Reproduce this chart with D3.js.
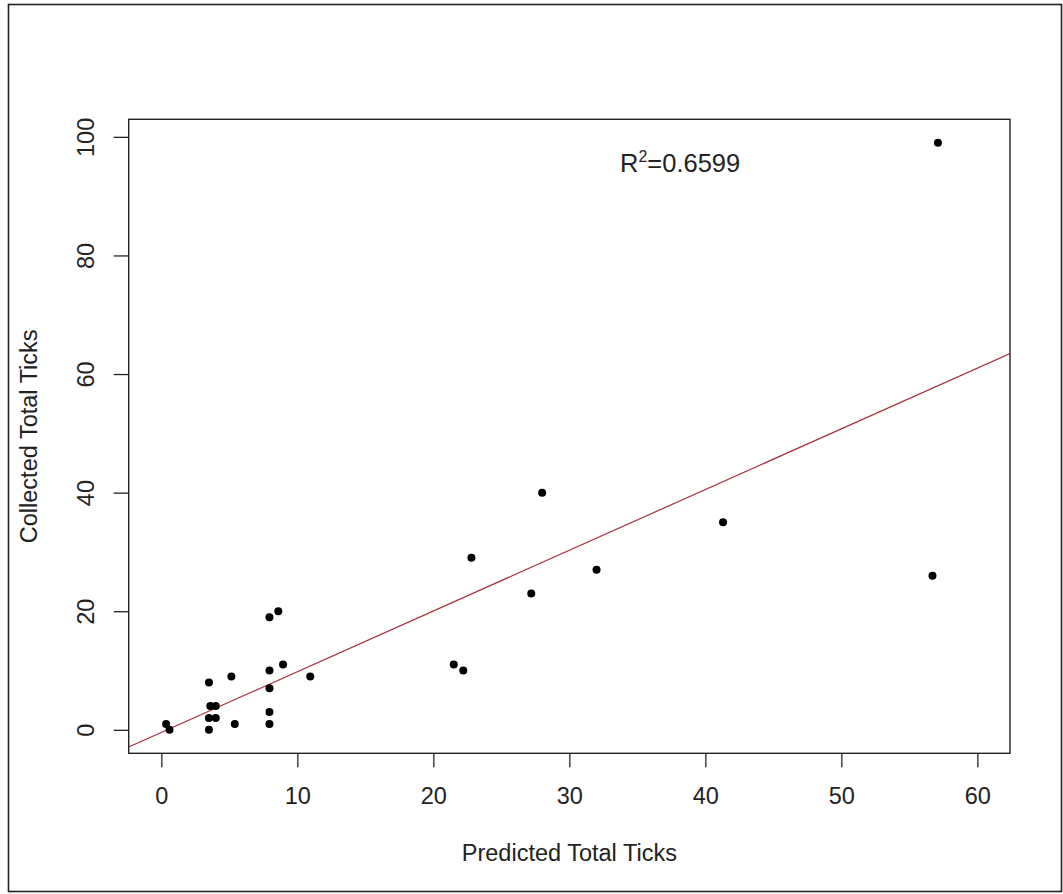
<!DOCTYPE html>
<html>
<head>
<meta charset="utf-8">
<script src="https://cdn.jsdelivr.net/npm/d3@7"></script>
<style>
    body { margin: 0; background: #fff; }
    #chart { width: 1063px; height: 894px; }
    text { font-family: "Liberation Sans", Arial, sans-serif; fill: #222; }
</style>
</head>
<body>
<div id="chart"></div>
<script>

// predicted vs collected tick counts
const predicted = [0.35, 0.6, 3.5, 3.6, 4.0, 3.5, 4.0, 3.5, 5.15, 5.4,
    7.95, 8.6, 7.95, 8.95, 10.95, 7.95, 7.95, 7.95,
    21.5, 22.2, 22.8, 27.2, 28.0, 32.0, 41.3, 56.7, 57.1];
const collected = [1, 0, 8, 4, 4, 2, 2, 0, 9, 1,
    19, 20, 10, 11, 9, 7, 3, 1,
    11, 10, 29, 23, 40, 27, 35, 26, 99];

const xTicks = [0, 10, 20, 30, 40, 50, 60];
const yTicks = [0, 20, 40, 60, 80, 100];

// fitted line (abline) and the r squared label
const fitIntercept = -0.44;
const fitSlope = 1.024;
const rSquared = "0.6599";

const width = 1063;
const height = 894;
const margin = {top: 119.3, left: 128.7, right: 53, bottom: 140.7};

const svg = d3.select("#chart")
    .append("svg")
    .attr("width", width)
    .attr("height", height);

// outer frame round the whole figure
svg.append("rect")
    .attr("x", 8.5)
    .attr("y", 4.5)
    .attr("width", width - 10)
    .attr("height", height - 7)
    .attr("fill", "none")
    .attr("stroke", "#222")
    .attr("stroke-width", 1.6);

const xScale = d3.scaleLinear()
    .domain([-2.4, 62.4])
    .range([margin.left, width - margin.right]);

const yScale = d3.scaleLinear()
    .domain([-3.96, 102.96])
    .range([height - margin.bottom, margin.top]);

/* AXES */

const xAxis = svg.append("g")
    .attr("transform", `translate(0,${height - margin.bottom})`)
    .call(d3.axisBottom(xScale).tickValues(xTicks).tickSize(14).tickFormat(d3.format("d")));

xAxis.select(".domain").remove();
xAxis.selectAll("line").attr("stroke", "#222").attr("stroke-width", 1.3);
xAxis.selectAll("text")
    .attr("y", 50.7)
    .attr("dy", null)
    .attr("font-size", 23.5)
    .style("font-family", "Liberation Sans, Arial, sans-serif")
    .attr("fill", "#222");

const yAxis = svg.append("g")
    .attr("transform", `translate(${margin.left},0)`)
    .call(d3.axisLeft(yScale).tickValues(yTicks).tickSize(15).tickFormat(d3.format("d")));

yAxis.select(".domain").remove();
yAxis.selectAll("line").attr("stroke", "#222").attr("stroke-width", 1.3);
yAxis.selectAll("text")
    .attr("x", null)
    .attr("dy", null)
    .attr("text-anchor", "middle")
    .attr("transform", "translate(-34.7,0) rotate(-90)")
    .attr("font-size", 23.5)
    .style("font-family", "Liberation Sans, Arial, sans-serif")
    .attr("fill", "#222");

/* REGRESSION LINE - clipped to the plot box */

svg.append("clipPath")
    .attr("id", "plotClip")
    .append("rect")
    .attr("x", margin.left)
    .attr("y", margin.top)
    .attr("width", width - margin.left - margin.right)
    .attr("height", height - margin.top - margin.bottom);

const xEnds = xScale.domain();
svg.append("line")
    .attr("clip-path", "url(#plotClip)")
    .attr("x1", xScale(xEnds[0]))
    .attr("y1", yScale(fitIntercept + fitSlope * xEnds[0]))
    .attr("x2", xScale(xEnds[1]))
    .attr("y2", yScale(fitIntercept + fitSlope * xEnds[1]))
    .attr("stroke", "#a3303a")
    .attr("stroke-width", 1.2);

/* POINTS */

const points = svg.selectAll("circle")
    .data(predicted)
    .enter()
    .append("circle")
        .attr("cx", function(d) { return xScale(d); })
        .attr("cy", function(d, i) { return yScale(collected[i]); })
        .attr("r", 4)
        .attr("fill", "#000");

/* PLOT BOX */

svg.append("rect")
    .attr("x", margin.left)
    .attr("y", margin.top)
    .attr("width", width - margin.left - margin.right)
    .attr("height", height - margin.top - margin.bottom)
    .attr("fill", "none")
    .attr("stroke", "#222")
    .attr("stroke-width", 1.4);

/* LABELS */

svg.append("text")
    .attr("x", (margin.left + width - margin.right) / 2)
    .attr("y", 861)
    .attr("text-anchor", "middle")
    .attr("font-size", 23.5)
    .text("Predicted Total Ticks");

svg.append("text")
    .attr("transform", `translate(37,${(margin.top + height - margin.bottom) / 2}) rotate(-90)`)
    .attr("text-anchor", "middle")
    .attr("font-size", 23.5)
    .text("Collected Total Ticks");

const r2 = svg.append("text")
    .attr("x", 620)
    .attr("y", 171.7)
    .attr("font-size", 25.5);
r2.append("tspan").text("R");
r2.append("tspan")
    .attr("font-size", 16)
    .attr("dy", -10)
    .text("2");
r2.append("tspan")
    .attr("dy", 10)
    .text("=" + rSquared);

</script>
</body>
</html>
